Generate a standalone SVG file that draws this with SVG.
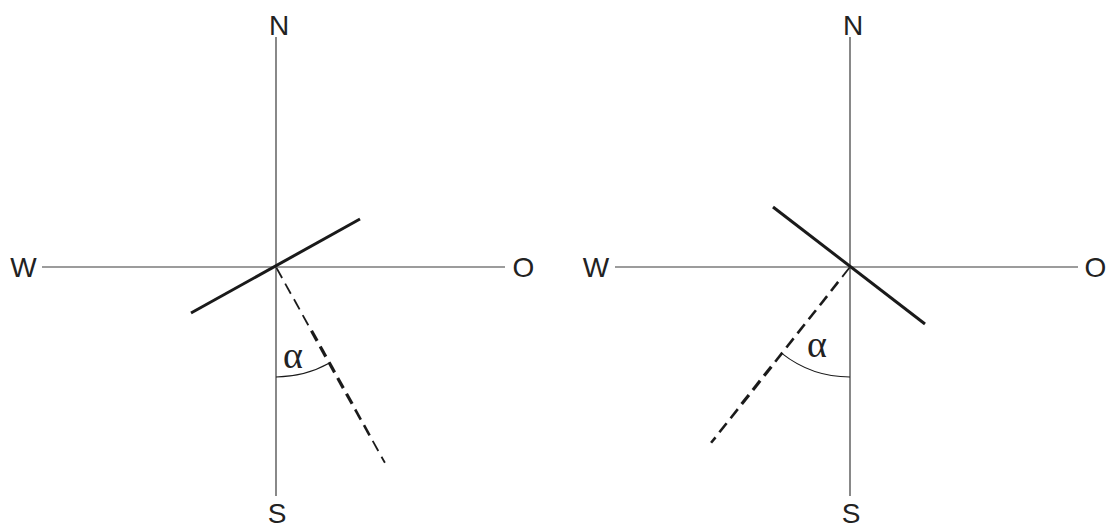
<svg xmlns="http://www.w3.org/2000/svg" width="1109" height="529" viewBox="0 0 1109 529">
<style>
.axis{stroke:#3a3a3a;stroke-width:1.2;fill:none}
.solid{stroke:#1a1a1a;stroke-width:3;stroke-linecap:butt;fill:none}
.dt{stroke:#1a1a1a;stroke-width:1.8;fill:none}
.dm{stroke:#1a1a1a;stroke-width:3.2;fill:none}
.dr{stroke:#1a1a1a;stroke-width:2.6;fill:none}
.arc{stroke:#1a1a1a;stroke-width:1.1;fill:none}
.lbl{font-family:"Liberation Sans",Arial,sans-serif;font-size:28px;fill:#222}
.greek{font-family:"Liberation Serif","DejaVu Serif",serif;font-size:38px;fill:#222}
</style>
<rect width="1109" height="529" fill="#fff"/>
<g id="left-compass">
<line class="axis" x1="276" y1="37" x2="276" y2="496"/>
<line class="axis" x1="42" y1="267" x2="505" y2="267"/>
<line class="solid" x1="191" y1="313" x2="360" y2="219"/>
<g id="left-dashed">
<line class="dt" x1="276.5" y1="267.9" x2="282.1" y2="278.0"/>
<line class="dt" x1="285.2" y1="283.6" x2="290.8" y2="293.7"/>
<line class="dt" x1="294.0" y1="299.3" x2="299.6" y2="309.4"/>
<line class="dt" x1="302.7" y1="315.1" x2="308.3" y2="325.2"/>
<line class="dm" x1="311.5" y1="330.8" x2="317.1" y2="340.9"/>
<line class="dm" x1="320.2" y1="346.5" x2="325.8" y2="356.6"/>
<line class="dm" x1="329.0" y1="362.3" x2="334.6" y2="372.4"/>
<line class="dm" x1="337.7" y1="378.0" x2="343.3" y2="388.1"/>
<line class="dm" x1="346.5" y1="393.7" x2="352.1" y2="403.8"/>
<line class="dr" x1="355.2" y1="409.5" x2="360.8" y2="419.6"/>
<line class="dr" x1="364.0" y1="425.2" x2="369.6" y2="435.3"/>
<line class="dt" x1="372.7" y1="440.9" x2="378.3" y2="451.0"/>
<line class="dt" x1="381.5" y1="456.7" x2="384.9" y2="462.8"/>
</g>
<path class="arc" d="M276,377 A110,110 0 0 0 329.5,363.1"/>
<text class="greek" x="283" y="368">α</text>
<text class="lbl" x="279" y="35" text-anchor="middle">N</text>
<text class="lbl" x="277" y="523" text-anchor="middle">S</text>
<text class="lbl" x="23.5" y="277" text-anchor="middle">W</text>
<text class="lbl" x="523.5" y="277" text-anchor="middle">O</text>
</g>
<g id="right-compass">
<line class="axis" x1="850" y1="37" x2="850" y2="496"/>
<line class="axis" x1="615" y1="267" x2="1078" y2="267"/>
<line class="solid" x1="773" y1="207" x2="925" y2="324"/>
<g id="right-dashed">
<line class="dt" x1="849.4" y1="267.8" x2="842.2" y2="276.9"/>
<line class="dr" x1="838.2" y1="281.9" x2="831.0" y2="291.0"/>
<line class="dr" x1="827.1" y1="296.1" x2="819.9" y2="305.2"/>
<line class="dr" x1="815.9" y1="310.2" x2="808.7" y2="319.3"/>
<line class="dr" x1="804.7" y1="324.3" x2="797.5" y2="333.4"/>
<line class="dr" x1="793.6" y1="338.4" x2="786.4" y2="347.5"/>
<line class="dr" x1="782.4" y1="352.6" x2="775.2" y2="361.7"/>
<line class="dm" x1="771.3" y1="366.7" x2="764.1" y2="375.8"/>
<line class="dm" x1="760.1" y1="380.8" x2="752.9" y2="389.9"/>
<line class="dm" x1="748.9" y1="395.0" x2="741.7" y2="404.1"/>
<line class="dr" x1="737.8" y1="409.1" x2="730.6" y2="418.2"/>
<line class="dr" x1="726.6" y1="423.2" x2="719.4" y2="432.3"/>
<line class="dr" x1="715.5" y1="437.4" x2="711.1" y2="442.8"/>
</g>
<path class="arc" d="M850,377 A110,110 0 0 1 781.8,353.4"/>
<text class="greek" x="807" y="357">α</text>
<text class="lbl" x="853" y="35" text-anchor="middle">N</text>
<text class="lbl" x="851" y="523" text-anchor="middle">S</text>
<text class="lbl" x="596" y="277" text-anchor="middle">W</text>
<text class="lbl" x="1095.5" y="277" text-anchor="middle">O</text>
</g>
</svg>
